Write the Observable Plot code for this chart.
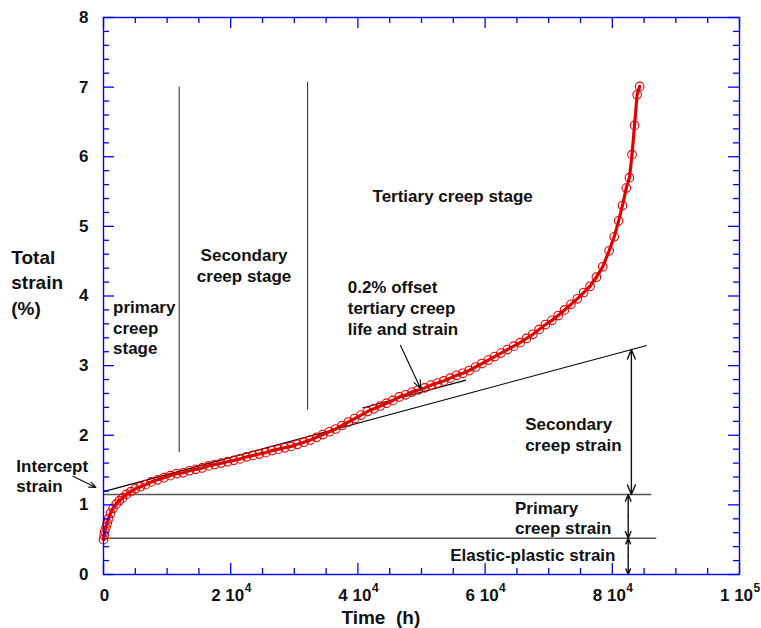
<!DOCTYPE html>
<html>
<head>
<meta charset="utf-8">
<script src="https://cdn.jsdelivr.net/npm/d3@7"></script>
<script src="https://cdn.jsdelivr.net/npm/@observablehq/plot@0.6"></script>
<style>
  body { margin: 0; background: #fff; }
  #chart { width: 761px; height: 628px; }
</style>
</head>
<body>
<div id="chart"></div>
<script>
// Creep test record: elapsed time (h) and total strain (%)
const timeHours = [
  0, 100, 200, 400, 600, 800, 1100, 1500, 2000, 2500,
  3000, 3600, 4300, 5000, 5800, 6600, 7500, 8500, 9500, 10500,
  11500, 12500, 13500, 14500, 15500, 16500, 17500, 18500, 19500, 20500,
  21500, 22500, 23500, 24500, 25500, 26500, 27500, 28500, 29500, 30500,
  31500, 32500, 33500, 34500, 35500, 36500, 37500, 38500, 39500, 40500,
  41500, 42500, 43500, 44500, 45500, 46500, 47500, 48500, 49500, 50500,
  51500, 52500, 53500, 54500, 55500, 56500, 57500, 58500, 59500, 60500,
  61500, 62500, 63500, 64500, 65500, 66500, 67500, 68500, 69500, 70500,
  71500, 72500, 73500, 74500, 75500, 76500, 77500, 78500, 79500, 80300,
  81000, 81600, 82200, 82700, 83100, 83500, 83900, 84300
];
const totalStrain = [
  0.50, 0.56, 0.62, 0.68, 0.74, 0.80, 0.88, 0.95, 1.01, 1.06,
  1.10, 1.15, 1.19, 1.23, 1.26, 1.29, 1.33, 1.36, 1.39, 1.42,
  1.45, 1.46, 1.49, 1.51, 1.53, 1.56, 1.58, 1.60, 1.62, 1.64,
  1.66, 1.69, 1.71, 1.73, 1.75, 1.78, 1.80, 1.82, 1.84, 1.87,
  1.90, 1.93, 1.97, 2.01, 2.05, 2.09, 2.14, 2.19, 2.24, 2.29,
  2.34, 2.38, 2.42, 2.46, 2.50, 2.55, 2.58, 2.62, 2.65, 2.68,
  2.72, 2.75, 2.78, 2.82, 2.86, 2.89, 2.93, 2.98, 3.03, 3.08,
  3.13, 3.18, 3.23, 3.28, 3.33, 3.39, 3.45, 3.52, 3.59, 3.65,
  3.72, 3.80, 3.88, 3.96, 4.05, 4.14, 4.27, 4.42, 4.65, 4.85,
  5.08, 5.30, 5.55, 5.70, 6.03, 6.45, 6.89, 7.01
];

// Axis ticks and labels
const yTicks = [0, 1, 2, 3, 4, 5, 6, 7, 8];
const xTicks = [0, 20000, 40000, 60000, 80000, 100000];
const xTickMantissa = ["0", "2 10", "4 10", "6 10", "8 10", "1 10"];
const xTickExponent = ["", "4", "4", "4", "4", "5"];

// Construction levels (strain, %)
const elasticPlasticLevel = 0.52;
const primaryLevel = 1.15;
const interceptStrain = 1.19;
const secondaryLineEnd = [85400, 3.29];
const offsetStrain = 0.2;
const offsetLineSpan = [40700, 57000];
const stageBoundaries = [11900, 32100];
const stageBoundaryTops = [7.0, 7.07];
const stageBoundaryBottoms = [1.75, 2.36];

const W = 761, H = 628;
const margin = {top: 17, right: 22, bottom: 54, left: 103};
const plotW = W - margin.left - margin.right;
const plotH = H - margin.top - margin.bottom;
const xMax = 100000, yMax = 8;
const pxX = plotW / xMax, pxY = plotH / yMax;

const blue = "#0000ff";
const red = "#e00000";
const font = "'Liberation Sans', Arial, Helvetica, sans-serif";

const curve = timeHours.map((t, i) => ({t, s: totalStrain[i]}));
const slope = (secondaryLineEnd[1] - interceptStrain) / secondaryLineEnd[0];
const secLine = t => interceptStrain + slope * t;

// tick positions
const xMajor = xTicks;
const xMinor = d3.range(5000, xMax, 5000).filter(v => v % 20000 !== 0);
const yMajor = yTicks;
const yMinor = d3.range(1, 40).map(i => i * 0.2).filter(v => Math.abs(v - Math.round(v)) > 1e-6);
const majLen = 11, minLen = 6;

const textStyle = {fontFamily: font, fontWeight: "bold", fill: "#111"};

// double-headed arrow drawn as two arrows from the midpoint
function doubleArrow(x, y1, y2) {
  const mid = (y1 + y2) / 2;
  const opts = {stroke: "#111", strokeWidth: 1.4, headLength: 11, headAngle: 45};
  return [
    Plot.arrow([0], {x1: x, y1: mid, x2: x, y2: y1, ...opts}),
    Plot.arrow([0], {x1: x, y1: mid, x2: x, y2: y2, ...opts})
  ];
}

const xLabelData = xTicks.map((v, i) => ({v, m: xTickMantissa[i], e: xTickExponent[i]}));
const xLabelPlain = xLabelData.filter(d => d.e === "");
const xLabelPower = xLabelData.filter(d => d.e !== "");

const chart = Plot.plot({
  width: W,
  height: H,
  marginTop: margin.top,
  marginRight: margin.right,
  marginBottom: margin.bottom,
  marginLeft: margin.left,
  x: {domain: [0, xMax], axis: null},
  y: {domain: [0, yMax], axis: null},
  style: {fontFamily: font, background: "#fff", overflow: "visible"},
  marks: [
    // strain component levels
    Plot.ruleY([primaryLevel], {x1: 0, x2: 86200, stroke: "#555", strokeWidth: 1.6}),
    Plot.ruleY([elasticPlasticLevel], {x1: 0, x2: 87000, stroke: "#555", strokeWidth: 1.6}),
    // stage boundaries
    Plot.ruleX(stageBoundaries, {x: d => d, y1: (d, i) => stageBoundaryBottoms[i], y2: (d, i) => stageBoundaryTops[i], stroke: "#222", strokeWidth: 1}),
    // secondary creep line and its 0.2% offset
    Plot.link([0], {x1: 0, y1: interceptStrain, x2: secondaryLineEnd[0], y2: secondaryLineEnd[1], stroke: "#000", strokeWidth: 1.1}),
    Plot.link([0], {x1: offsetLineSpan[0], y1: secLine(offsetLineSpan[0]) + offsetStrain, x2: offsetLineSpan[1], y2: secLine(offsetLineSpan[1]) + offsetStrain, stroke: "#000", strokeWidth: 1.1}),
    // creep curve
    Plot.line(curve, {x: "t", y: "s", stroke: red, strokeWidth: 3.2}),
    Plot.dot(curve, {x: "t", y: "s", r: 4.3, stroke: red, strokeWidth: 1.1, fill: "none"}),
    // annotation arrows
    ...doubleArrow(83000, secLine(83000), primaryLevel),
    ...doubleArrow(82500, primaryLevel, elasticPlasticLevel),
    ...doubleArrow(82500, elasticPlasticLevel, 0),
    Plot.arrow([0], {x1: 46700, y1: 3.29, x2: 49860, y2: 2.67, stroke: "#111", strokeWidth: 1.2, headLength: 11, headAngle: 45}),
    Plot.arrow([0], {x1: -4800, y1: 1.41, x2: -1200, y2: 1.25, stroke: "#111", strokeWidth: 1.2, headLength: 9, headAngle: 45}),
    // annotation text
    Plot.text(["primary\ncreep\nstage"], {x: 1500, y: 3.55, text: d => d, textAnchor: "start", fontSize: 17, lineHeight: 1.2, ...textStyle}),
    Plot.text(["Secondary\ncreep stage"], {x: 22100, y: 4.45, text: d => d, textAnchor: "middle", fontSize: 17, lineHeight: 1.25, ...textStyle}),
    Plot.text(["Tertiary creep stage"], {x: 54900, y: 5.43, text: d => d, textAnchor: "middle", fontSize: 17, ...textStyle}),
    Plot.text(["0.2% offset\ntertiary creep\nlife and strain"], {x: 38400, y: 3.84, text: d => d, textAnchor: "start", fontSize: 17, lineHeight: 1.25, ...textStyle}),
    Plot.text(["Secondary\ncreep strain"], {x: 66300, y: 2.02, text: d => d, textAnchor: "start", fontSize: 17, lineHeight: 1.2, ...textStyle}),
    Plot.text(["Primary\ncreep strain"], {x: 64700, y: 0.82, text: d => d, textAnchor: "start", fontSize: 17, lineHeight: 1.2, ...textStyle}),
    Plot.text(["Elastic-plastic strain"], {x: 80500, y: 0.27, text: d => d, textAnchor: "end", fontSize: 17, ...textStyle}),
    Plot.text(["Intercept\nstrain"], {x: -13700, y: 1.42, text: d => d, textAnchor: "start", fontSize: 17, lineHeight: 1.2, ...textStyle}),
    // axis titles
    Plot.text(["Total\nstrain\n(%)"], {x: -14500, y: 4.21, text: d => d, textAnchor: "start", fontSize: 19, lineHeight: 1.33, ...textStyle}),
    Plot.text(["Time  (h)"], {x: 43600, y: 0, dy: 43, text: d => d, textAnchor: "middle", fontSize: 19, ...textStyle}),
    // tick labels
    Plot.text(yTicks, {x: 0, y: d => d, dx: -15, text: d => String(d), textAnchor: "end", fontSize: 17, ...textStyle}),
    Plot.text(xLabelPlain, {x: "v", y: 0, dy: 21, dx: 1, text: "m", textAnchor: "middle", fontSize: 17, ...textStyle}),
    Plot.text(xLabelPower, {x: "v", y: 0, dy: 21, dx: -3, text: "m", textAnchor: "middle", fontSize: 17, ...textStyle}),
    Plot.text(xLabelPower, {x: "v", y: 0, dy: 14, dx: 14, text: "e", textAnchor: "start", fontSize: 12, ...textStyle}),
    // frame and inward ticks on all four sides
    Plot.frame({stroke: blue, strokeWidth: 1.4}),
    Plot.ruleX(xMajor, {x: d => d, y1: 0, y2: majLen / pxY, stroke: blue, strokeWidth: 1.3}),
    Plot.ruleX(xMinor, {x: d => d, y1: 0, y2: minLen / pxY, stroke: blue, strokeWidth: 1.3}),
    Plot.ruleX(xMajor, {x: d => d, y1: yMax - majLen / pxY, y2: yMax, stroke: blue, strokeWidth: 1.3}),
    Plot.ruleX(xMinor, {x: d => d, y1: yMax - minLen / pxY, y2: yMax, stroke: blue, strokeWidth: 1.3}),
    Plot.ruleY(yMajor, {y: d => d, x1: 0, x2: majLen / pxX, stroke: blue, strokeWidth: 1.3}),
    Plot.ruleY(yMinor, {y: d => d, x1: 0, x2: minLen / pxX, stroke: blue, strokeWidth: 1.3}),
    Plot.ruleY(yMajor, {y: d => d, x1: xMax - majLen / pxX, x2: xMax, stroke: blue, strokeWidth: 1.3}),
    Plot.ruleY(yMinor, {y: d => d, x1: xMax - minLen / pxX, x2: xMax, stroke: blue, strokeWidth: 1.3})
  ]
});

document.getElementById("chart").appendChild(chart);
</script>
</body>
</html>
